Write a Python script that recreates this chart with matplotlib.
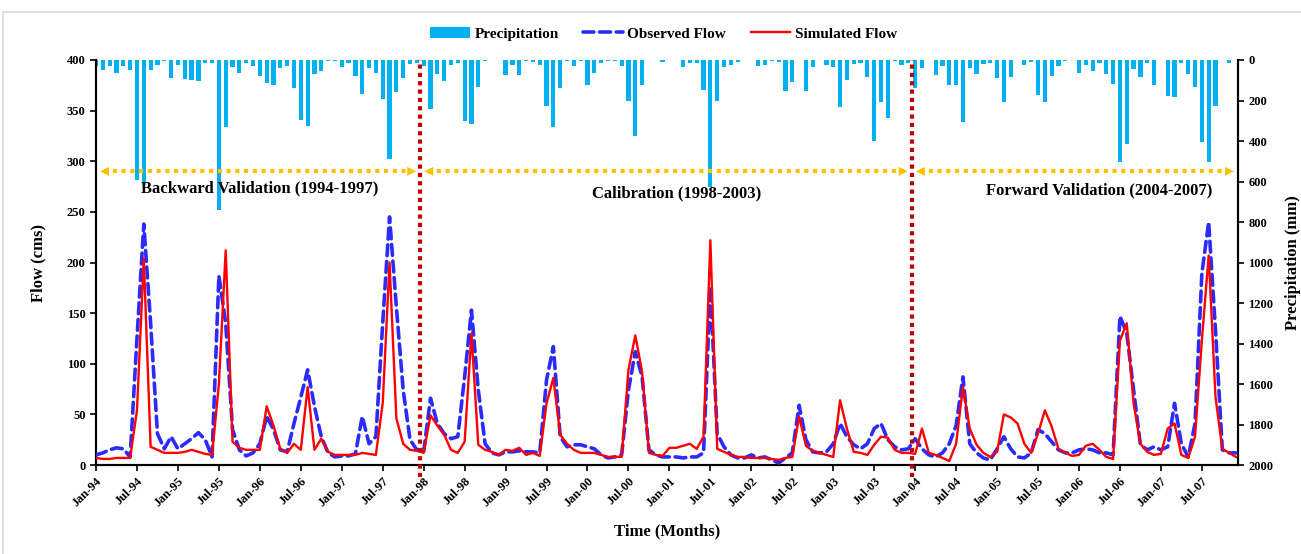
"""
Observed vs simulated monthly flow with precipitation (inverted, secondary axis).
Output: out.png
"""

import matplotlib.pyplot as plt
import numpy as np
from matplotlib.patches import Rectangle

plt.rcParams["font.family"] = ["Liberation Serif", "DejaVu Serif"]
plt.rcParams["font.weight"] = "bold"

# month labels shown on the x axis (every 6 months, Jan-94 .. Jul-07)
tick_labels = ["Jan-94", "Jul-94", "Jan-95", "Jul-95", "Jan-96", "Jul-96", "Jan-97", "Jul-97",
               "Jan-98", "Jul-98", "Jan-99", "Jul-99", "Jan-00", "Jul-00", "Jan-01", "Jul-01",
               "Jan-02", "Jul-02", "Jan-03", "Jul-03", "Jan-04", "Jul-04", "Jan-05", "Jul-05",
               "Jan-06", "Jul-06", "Jan-07", "Jul-07"]

# monthly values Jan-94 .. Dec-07 (168 months)
observed = [10, 12, 15, 17, 16, 8, 125, 238, 140, 31, 16, 28,
            16, 21, 26, 32, 25, 8, 187, 140, 35, 15, 9, 12,
            21, 48, 35, 15, 13, 41, 67, 94, 58, 28, 12, 8,
            9, 9, 11, 48, 21, 28, 140, 245, 156, 74, 25, 15,
            13, 66, 41, 31, 26, 28, 87, 153, 74, 21, 12, 10,
            13, 13, 14, 13, 13, 12, 84, 117, 28, 18, 20, 20,
            18, 16, 10, 7, 8, 10, 74, 112, 87, 15, 10, 8,
            8, 8, 7, 8, 8, 12, 176, 31, 18, 10, 7, 7,
            10, 7, 8, 5, 2, 7, 12, 59, 25, 13, 12, 13,
            21, 41, 28, 20, 16, 21, 36, 41, 25, 18, 15, 16,
            26, 16, 10, 8, 12, 21, 39, 87, 21, 12, 7, 5,
            16, 28, 16, 8, 7, 12, 35, 31, 23, 15, 12, 12,
            15, 16, 15, 12, 12, 10, 147, 130, 74, 20, 15, 18,
            15, 18, 61, 21, 8, 41, 189, 240, 133, 15, 12, 12]

simulated = [7, 6, 6, 7, 7, 7, 54, 204, 18, 15, 12, 12,
             12, 13, 15, 13, 11, 10, 80, 212, 23, 17, 15, 15,
             15, 58, 39, 16, 12, 21, 15, 77, 15, 26, 13, 10,
             10, 10, 10, 12, 11, 10, 61, 200, 46, 21, 15, 14,
             12, 49, 39, 30, 15, 12, 23, 130, 20, 15, 13, 10,
             15, 14, 17, 10, 12, 9, 61, 86, 30, 21, 15, 12,
             12, 12, 10, 8, 8, 8, 94, 128, 92, 12, 10, 9,
             17, 17, 19, 21, 16, 28, 222, 16, 13, 10, 8, 8,
             7, 7, 7, 6, 5, 7, 8, 48, 19, 14, 12, 10,
             8, 64, 36, 13, 12, 10, 20, 28, 27, 15, 12, 12,
             11, 36, 12, 10, 7, 4, 21, 77, 36, 20, 12, 8,
             13, 50, 47, 41, 21, 12, 31, 54, 38, 16, 12, 9,
             10, 19, 21, 15, 8, 6, 123, 140, 61, 21, 13, 10,
             11, 36, 41, 10, 7, 28, 123, 207, 67, 16, 12, 8]

precip = [30, 49, 30, 66, 30, 49, 593, 617, 49, 25, 5, 87,
          26, 95, 99, 102, 13, 16, 741, 329, 36, 63, 16, 30,
          77, 115, 123, 41, 30, 140, 296, 326, 69, 54, 3, 3,
          36, 16, 77, 170, 41, 63, 193, 490, 156, 91, 20, 13,
          30, 244, 69, 102, 25, 13, 300, 316, 135, 3, 0, 0,
          74, 25, 74, 3, 8, 25, 227, 332, 140, 5, 30, 3,
          123, 66, 13, 3, 5, 30, 201, 375, 123, 0, 0, 8,
          0, 2, 33, 13, 13, 148, 625, 201, 36, 25, 8, 2,
          2, 30, 25, 3, 8, 151, 107, 2, 151, 33, 0, 25,
          33, 230, 99, 20, 13, 82, 398, 206, 288, 3, 25, 13,
          140, 41, 0, 74, 30, 123, 123, 305, 41, 69, 20, 13,
          91, 206, 82, 0, 25, 8, 173, 206, 79, 30, 3, 0,
          66, 25, 53, 13, 69, 119, 502, 415, 46, 86, 13, 123,
          0, 178, 181, 16, 71, 132, 407, 502, 226, 0, 16, 0]

periods = ["Backward Validation (1994-1997)", "Calibration (1998-2003)",
           "Forward Validation (2004-2007)"]
period_bounds = [0, 47.5, 119.5, 167.3]

BAR_C = "#00B0F0"
OBS_C = "#2B2BFF"
SIM_C = "#FF0000"
GOLD = "#FFC000"
SPLIT_C = "#C00000"

months = np.arange(len(observed))

fig = plt.figure(figsize=(13.01, 5.54), dpi=100)
ax = fig.add_axes([0.0738, 0.1606, 0.8778, 0.7311])
ax2 = ax.twinx()

# precipitation bars hanging from the top
bars = ax2.bar(months, precip, width=0.62, color=BAR_C, zorder=2)
ax2.set_ylim(2000, 0)
ax2.set_yticks(np.arange(0, 2001, 200))
ax2.set_ylabel("Precipitation (mm)", fontsize=12, fontweight="bold", labelpad=8)

# flow lines
obs_line, = ax.plot(months, observed, color=OBS_C, lw=2.6, linestyle=(0, (3, 1.6)),
                    dash_capstyle="round", zorder=3)
sim_line, = ax.plot(months, simulated, color=SIM_C, lw=1.7, zorder=4)
ax.set_zorder(ax2.get_zorder() + 1)
ax.patch.set_visible(False)

ax.set_xlim(0, 167.3)
ax.set_ylim(0, 400)
ax.set_yticks(np.arange(0, 401, 50))
ax.set_xticks(months[::6][:len(tick_labels)])
ax.set_xticklabels(tick_labels, rotation=45, ha="right", rotation_mode="anchor",
                   fontsize=9, fontweight="bold")
ax.set_ylabel("Flow (cms)", fontsize=12, fontweight="bold", labelpad=15)
ax.set_xlabel("Time (Months)", fontsize=12, fontweight="bold", labelpad=10)

for a in (ax, ax2):
    a.tick_params(axis="both", direction="out", length=4, width=1.2, labelsize=9)
    for s in a.spines.values():
        s.set_linewidth(1.5)
    a.spines["top"].set_visible(False)
for lab in ax.get_yticklabels() + ax2.get_yticklabels():
    lab.set_fontweight("bold")

# period split lines
for xb in period_bounds[1:3]:
    ax.axvline(xb, ymin=-0.03, ymax=1, color=SPLIT_C, lw=3, linestyle=(0, (1, 1)),
               clip_on=False, zorder=5)

# period arrows and titles
arrow_y = 290
for i, name in enumerate(periods):
    x0, x1 = period_bounds[i], period_bounds[i + 1]
    ax.plot([x0 + 1.2, x1 - 1.2], [arrow_y, arrow_y], color=GOLD, lw=3,
            linestyle=(0, (1, 1.1)), zorder=5, clip_on=False)
    for tip, base in ((x0 + 0.2, x0 + 2.0), (x1 - 0.2, x1 - 2.0)):
        ax.annotate("", xy=(tip, arrow_y), xytext=(base, arrow_y),
                    arrowprops=dict(arrowstyle="-|>", color=GOLD, lw=0,
                                    mutation_scale=16), zorder=6, annotation_clip=False)
text_pos = [(24, 273), (85, 268), (147, 271)]
for name, (tx, ty) in zip(periods, text_pos):
    ax.text(tx, ty, name, ha="center", va="center", fontsize=12, fontweight="bold", zorder=6)

fig.legend([bars, obs_line, sim_line], ["Precipitation", "Observed Flow", "Simulated Flow"],
           loc="center", bbox_to_anchor=(0.51, 0.939), ncol=3, frameon=False,
           prop={"size": 11, "weight": "bold"}, handlelength=2.6, columnspacing=1.6,
           handletextpad=0.3)

# chart-area border
fig.patches.append(Rectangle((0.0025, -0.01), 1.0, 0.988, transform=fig.transFigure,
                             fill=False, edgecolor="#D9D9D9", lw=1.2))

plt.savefig("out.png", dpi=100)
plt.close()
